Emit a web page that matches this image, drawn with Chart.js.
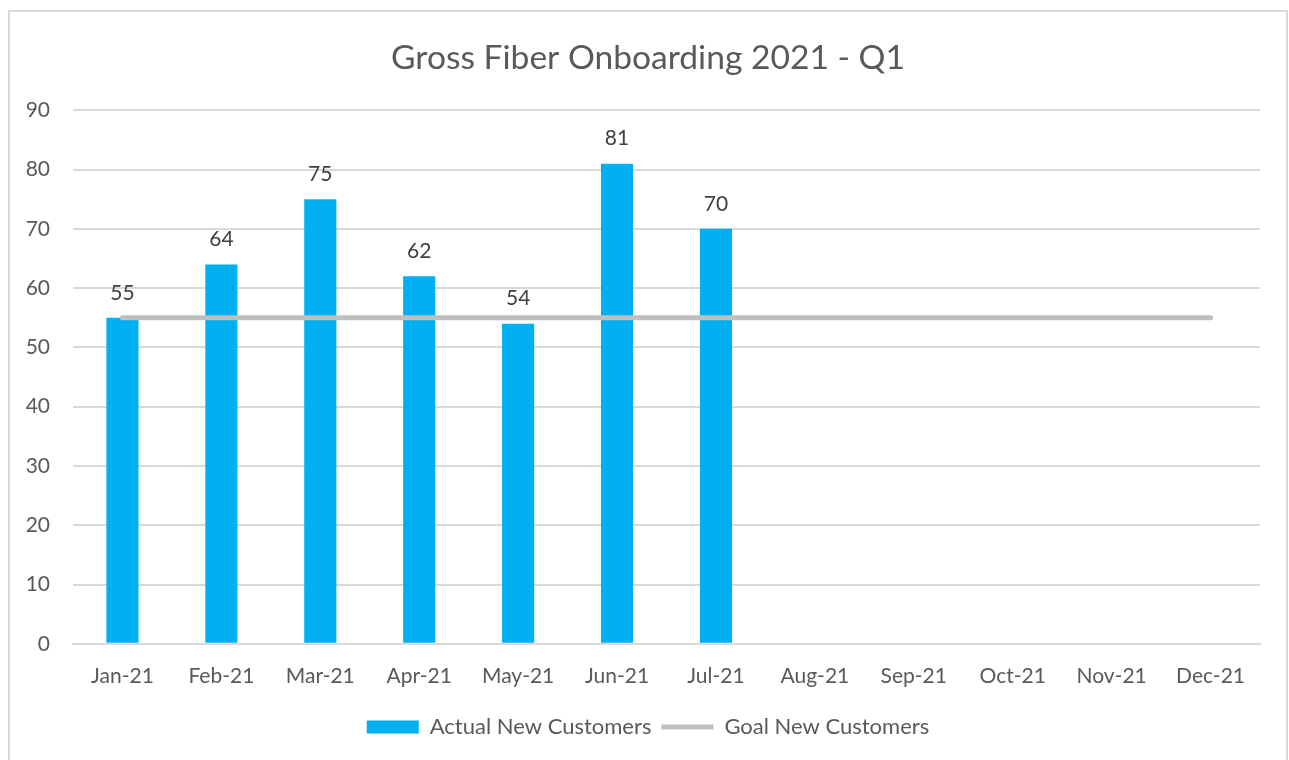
<!DOCTYPE html>
<html>
<head>
<meta charset="utf-8">
<script src="https://cdn.jsdelivr.net/npm/chart.js@4/dist/chart.umd.min.js"></script>
<style>
  body { margin: 0; background: #fff; }
  #box {
    position: absolute; left: 8px; top: 10px;
    width: 1280px; height: 760px;
    box-sizing: border-box; border: 2px solid #d9d9d9; border-bottom: none;
  }
  #chart { display: block; }
</style>
</head>
<body>
<div id="box"><canvas id="chart" width="1276" height="748"></canvas></div>
<script>
const months = ["Jan-21", "Feb-21", "Mar-21", "Apr-21", "May-21", "Jun-21",
  "Jul-21", "Aug-21", "Sep-21", "Oct-21", "Nov-21", "Dec-21"];
const actualNew = [55, 64, 75, 62, 54, 81, 70, null, null, null, null, null];
const goalNew = [55, 55, 55, 55, 55, 55, 55, 55, 55, 55, 55, 55];
const yTicks = [0, 10, 20, 30, 40, 50, 60, 70, 80, 90];

const FONT = "Lato, Calibri, 'Noto Sans', sans-serif";

// labels above the bars, like excel data labels
const barLabels = {
  id: "barLabels",
  afterDatasetsDraw(chart) {
    const ctx = chart.ctx;
    const meta = chart.getDatasetMeta(0);
    ctx.save();
    ctx.font = "21px " + FONT;
    ctx.fillStyle = "#404040";
    ctx.textAlign = "center";
    ctx.textBaseline = "middle";
    meta.data.forEach((bar, i) => {
      const v = actualNew[i];
      if (v == null) return;
      ctx.fillText(String(v), bar.x, bar.y - 25);
    });
    ctx.restore();
  },
};

const ctx = document.getElementById("chart");
const chart = new Chart(ctx, {
  data: {
    labels: months,
    datasets: [
      {
        type: "bar",
        label: "Actual New Customers",
        data: actualNew,
        backgroundColor: "#00B0F0",
        borderWidth: 0,
        barPercentage: 0.65,
        categoryPercentage: 0.5,
        pointStyle: "rect",
        order: 2,
      },
      {
        type: "line",
        label: "Goal New Customers",
        data: goalNew,
        borderColor: "#BFBFBF",
        backgroundColor: "#BFBFBF",
        borderWidth: 5,
        borderCapStyle: "round",
        pointRadius: 0,
        pointHoverRadius: 0,
        pointStyle: "line",
        order: 1,
      },
    ],
  },
  options: {
    responsive: false,
    animation: false,
    layout: { padding: { left: 0, right: 0, top: 0, bottom: 12 } },
    plugins: {
      title: {
        display: true,
        text: "Gross Fiber Onboarding 2021 - Q1",
        color: "#595959",
        font: { family: FONT, size: 33.6, weight: "normal" },
        padding: { top: 26, bottom: 32 },
      },
      legend: {
        position: "bottom",
        labels: {
          usePointStyle: true,
          pointStyleWidth: 52,
          boxHeight: 13,
          color: "#595959",
          font: { family: FONT, size: 22 },
          padding: 10,
          sort: (a, b) => a.datasetIndex - b.datasetIndex,
        },
      },
      tooltip: { enabled: false },
    },
    scales: {
      x: {
        grid: { display: false, drawTicks: false },
        border: { color: "#D9D9D9", width: 2 },
        ticks: { color: "#595959", font: { family: FONT, size: 21 }, padding: 20 },
        afterFit: (scale) => {
          scale.paddingRight = 26;
          scale.height -= 3;
        },
      },
      y: {
        min: 0,
        max: 90,
        afterBuildTicks: (scale) => {
          scale.ticks = yTicks.map((v) => ({ value: v }));
        },
        afterFit: (scale) => { scale.width = 63; },
        grid: { color: "#D9D9D9", lineWidth: 2, drawTicks: false },
        border: { display: false },
        ticks: { color: "#595959", font: { family: FONT, size: 21 }, padding: 23 },
      },
    },
  },
  plugins: [barLabels],
});
</script>
</body>
</html>
